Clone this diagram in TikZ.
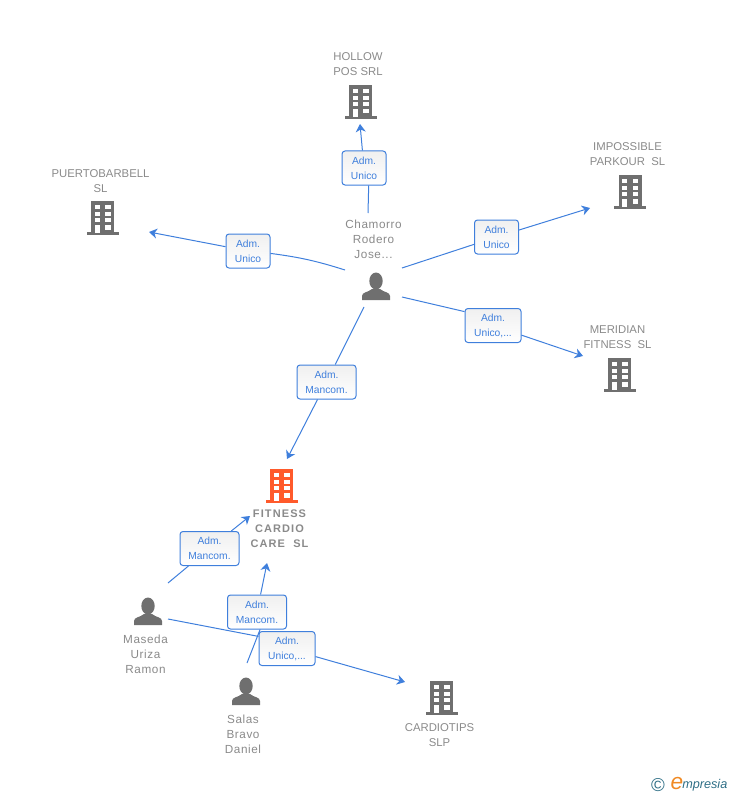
\documentclass[tikz,border=0pt]{standalone}
\usepackage{fontspec}
\setmainfont{Liberation Sans}
\usetikzlibrary{arrows.meta}
\definecolor{linkblue}{HTML}{3F7FDC}
\definecolor{labelgray}{HTML}{8A8A8A}
\definecolor{icongray}{HTML}{6F6F6F}
\definecolor{iconred}{HTML}{FF5A2B}
\definecolor{logoteal}{HTML}{2F6F86}
\definecolor{logoorange}{HTML}{F08A24}
\def\px{0.75pt}

\begin{document}
\begin{tikzpicture}[%
    x=0.75pt, y=-0.75pt,        % Work in pixels of the reference
    >={Stealth[length=8*\px, width=10*\px, inset=2.5*\px]},
    ]
% -------------------------------------------------
% A few styles
\tikzset{
  role/.style={draw=linkblue, line width=1*\px, rounded corners=3*\px, top color=black!6, bottom color=white,
    text=linkblue, align=center, inner sep=0pt, minimum height=34*\px, font={\fontsize{7.7}{11.25}\selectfont}},
  role44/.style={role, minimum width=44*\px},
  role56/.style={role, minimum width=56*\px},
  role59/.style={role, minimum width=59*\px},
  lblperson/.style={text=labelgray, align=center, inner sep=0pt,
    font={\fontsize{8.8}{11.25}\selectfont\addfontfeature{LetterSpace=5}}},
  lblfirm/.style={text=labelgray, align=center, inner sep=0pt, font={\fontsize{8.5}{11.25}\selectfont}},
  lblmain/.style={lblfirm, font={\fontsize{8.25}{11.25}\selectfont\bfseries\addfontfeature{LetterSpace=10}}},
  % Connector line styles
  link/.style={draw=linkblue, line width=1*\px},
  linkto/.style={link, ->},
  % Icons
  building/.pic={
    \fill[pic actions] (-11.5,-17) rectangle (11.5,15);
    \fill[pic actions] (-16,14) rectangle (16,17);
    \foreach \ya/\yb in {-13/-9, -6.3/-2.3, 0.3/4.3}{
      \fill[white] (-8,\ya) rectangle (-3,\yb);
      \fill[white] (2.5,\ya) rectangle (8,\yb);
    }
    \fill[white] (-8,7) rectangle (-3,15);
    \fill[white] (2.5,7) rectangle (8,11.5);
  },
  person/.pic={
    \fill[pic actions] (0,-6) ellipse (6.7 and 8.5);
    \fill[pic actions] (-14,13) -- (-14,9) .. controls (-14,5) and (-8,5.5) .. (-4,2)
      -- (4,2) .. controls (8,5.5) and (14,5) .. (14,9) -- (14,13) -- cycle;
  },
}
\useasboundingbox (0,0) rectangle (728,795);
% -------------------------------------------------
% Icons and their labels
\pic[fill=icongray] at (360.5,102) {building};
\pic[fill=icongray] at (102.5,218) {building};
\pic[fill=icongray] at (630,192) {building};
\pic[fill=icongray] at (619.5,375) {building};
\pic[fill=iconred] at (281.5,486) {building};
\pic[fill=icongray] at (441.5,698) {building};
\pic[fill=icongray] at (376,287) {person};
\pic[fill=icongray] at (148,612) {person};
\pic[fill=icongray] at (246,692) {person};

\node [lblfirm] (hollow) at (358,64.5) {HOLLOW\\POS SRL};
\node [lblfirm] (puerto) at (100.5,181) {PUERTOBARBELL\\SL};
\node [lblfirm] (impossible) at (627.5,154) {IMPOSSIBLE\\PARKOUR\ \ SL};
\node [lblfirm] (meridian) at (617.5,337.5) {MERIDIAN\\FITNESS\ \ SL};
\node [lblmain] (fitness) at (279.5,529) {FITNESS\\CARDIO\\CARE\ \ SL};
\node [lblfirm] (cardiotips) at (439.5,735) {CARDIOTIPS\\SLP};
\node [lblperson] (chamorro) at (373.5,239) {Chamorro\\Rodero\\Jose...};
\node [lblperson] (maseda) at (145.5,654) {Maseda\\Uriza\\Ramon};
\node [lblperson] (salas) at (243,734) {Salas\\Bravo\\Daniel};

% Role boxes
\node [role44] (r-hollow) at (364,168) {Adm.\\Unico};
\node [role44] (r-puerto) at (248,251) {Adm.\\Unico};
\node [role44] (r-impossible) at (496.5,237) {Adm.\\Unico};
\node [role56] (r-meridian) at (493,325.5) {Adm.\\Unico,...};
\node [role59] (r-top) at (326.5,382) {Adm.\\Mancom.};
\node [role59] (r-left) at (209.5,548.5) {Adm.\\Mancom.};
\node [role59] (r-mid) at (257,612) {Adm.\\Mancom.};
\node [role56] (r-low) at (287,648.5) {Adm.\\Unico,...};

% Free ends of the connectors
\coordinate (c1) at (368,213);
\coordinate (c2) at (345,270);
\coordinate (c3) at (402,268);
\coordinate (c4) at (402,297);
\coordinate (c5) at (364,307);
\coordinate (m1) at (168,583);
\coordinate (m2) at (168,619);
\coordinate (s1) at (247,663);
\coordinate (hollow-in) at (360,124);
\coordinate (puerto-in) at (149,232);
\coordinate (impossible-in) at (590,208);
\coordinate (meridian-in) at (583,356);
\coordinate (fitness-a) at (287,459);
\coordinate (fitness-b) at (250,516);
\coordinate (fitness-c) at (267,563);
\coordinate (cardiotips-in) at (405,682);

% -------------------------------------------------
\draw[link] (c1) to (r-hollow.-75);
\draw[linkto] (r-hollow) to (hollow-in);
\draw[link] (c2) to [bend right=5] (r-puerto);
\draw[linkto] (r-puerto) to (puerto-in);
\draw[link] (c3) to (r-impossible);
\draw[linkto] (r-impossible) to (impossible-in);
\draw[link] (c4) to (r-meridian.154);
\draw[linkto] (r-meridian) to (meridian-in);
\draw[link] (c5) to (r-top);
\draw[linkto] (r-top) to (fitness-a);
\draw[link] (m1) to (r-left);
\draw[linkto] (r-left) to (fitness-b);
\draw[link] (s1) to (r-mid.-80);
\draw[linkto] (r-mid) to (fitness-c);
\draw[link] (m2) to (r-low.157);
\draw[linkto] (r-low) to (cardiotips-in);

% -------------------------------------------------
% Logo
\node [text=logoteal, inner sep=0pt, font={\fontsize{14}{14}\selectfont}] (copyr) at (658,785) {©};
\node [text=logoorange, inner sep=0pt, font={\fontsize{17}{17}\selectfont\itshape}] (logo-e) at (677,784) {e};
\node [text=logoteal, inner sep=0pt, anchor=west, font={\fontsize{9.5}{12}\selectfont\itshape}] (logo) at (682,785.5) {mpresia};
\end{tikzpicture}
\end{document}
